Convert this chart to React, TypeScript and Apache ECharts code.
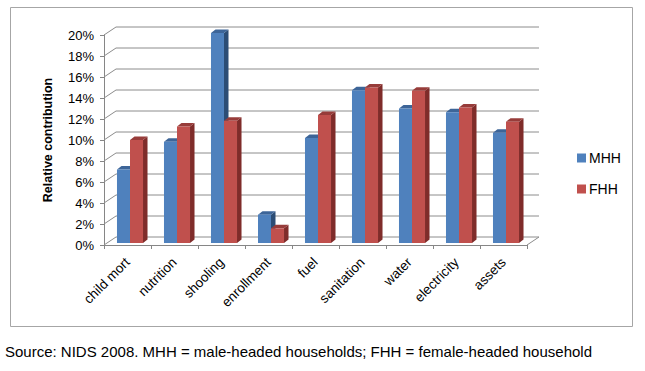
import React, { useEffect, useRef } from "react";
import * as echarts from "echarts";

const categories = ["child mort", "nutrition", "shooling", "enrollment", "fuel", "sanitation", "water", "electricity", "assets"];
const mhh = [0.07, 0.0965, 0.2, 0.027, 0.1, 0.1455, 0.128, 0.1245, 0.105];
const fhh = [0.098, 0.111, 0.1165, 0.014, 0.122, 0.148, 0.145, 0.129, 0.1155];
const yTicks = [0, 0.02, 0.04, 0.06, 0.08, 0.1, 0.12, 0.14, 0.16, 0.18, 0.2];
const sourceNote = "Source: NIDS 2008. MHH = male-headed households; FHH = female-headed household";

const FONT = "Liberation Sans";
const DX = 12;
const DY = -8;

function barRenderer(front: string, side: string, top: string, isFirst: boolean) {
  return (params: any, api: any) => {
    const i = api.value(0);
    const v = api.value(1);
    const base = api.coord([i, 0]);
    const tp = api.coord([i, v]);
    const band = api.size([1, 0])[0];
    const w = band * 0.277;
    const c = base[0] + 2.5;
    const x = isFirst ? c - w : c;
    const yb = base[1] - 2;
    const yt = tp[1] - 2;
    const sx = 4.5;
    const sy = -3.5;
    return {
      type: "group",
      children: [
        {
          type: "polygon",
          shape: { points: [[x + w, yt], [x + w + sx, yt + sy], [x + w + sx, yb + sy], [x + w, yb]] },
          style: { fill: side },
        },
        {
          type: "polygon",
          shape: { points: [[x, yt], [x + sx, yt + sy], [x + w + sx, yt + sy], [x + w, yt]] },
          style: { fill: top },
        },
        {
          type: "rect",
          shape: { x: x, y: yt, width: w, height: yb - yt },
          style: { fill: front },
        },
      ],
    };
  };
}

export default function App() {
  const ref = useRef<HTMLDivElement>(null);
  useEffect(() => {
    if (!ref.current) return;
    const chart = echarts.init(ref.current, null, { renderer: "svg" });
    const option: any = {
      animation: false,
      backgroundColor: "#ffffff",
      textStyle: { fontFamily: FONT },
      grid: { left: 104, right: 118, top: 35, bottom: 126, containLabel: false },
      legend: {
        orient: "vertical",
        left: 572,
        top: 146,
        itemWidth: 9,
        itemHeight: 9,
        itemGap: 17,
        icon: "rect",
        textStyle: { fontFamily: FONT, fontSize: 14, color: "#000", padding: [0, 0, 0, -2] },
        data: ["MHH", "FHH"],
      },
      xAxis: {
        type: "category",
        data: categories,
        axisLine: { show: true, lineStyle: { color: "#868686", width: 1 } },
        axisTick: { show: true, length: 4, lineStyle: { color: "#868686" } },
        axisLabel: { rotate: 45, margin: 15, fontSize: 13.5, color: "#000", fontFamily: FONT, interval: 0 },
        splitLine: { show: false },
      },
      yAxis: {
        type: "value",
        min: 0,
        max: 0.2,
        interval: 0.02,
        name: "Relative contribution",
        nameLocation: "middle",
        nameRotate: 90,
        nameGap: 50,
        nameTextStyle: { fontFamily: FONT, fontSize: 12.5, fontWeight: "bold", color: "#000" },
        axisLine: { show: true, lineStyle: { color: "#868686", width: 1 } },
        axisTick: { show: true, length: 4, lineStyle: { color: "#868686" } },
        axisLabel: {
          fontSize: 13,
          color: "#000",
          fontFamily: FONT,
          margin: 10,
          formatter: (v: number) => Math.round(v * 100) + "%",
        },
        splitLine: { show: false },
      },
      graphic: [
        {
          type: "rect",
          shape: { x: 10.5, y: 7.5, width: 622, height: 319 },
          style: { fill: "none", stroke: "#a6a6a6", lineWidth: 1 },
          z: 0,
        },
        {
          type: "text",
          left: 5,
          top: 344,
          style: { text: sourceNote, font: "15px " + FONT, fill: "#000" },
        },
      ],
      series: [
        {
          type: "custom",
          name: "frame",
          silent: true,
          z: 1,
          data: yTicks.map((v) => [0, v]),
          renderItem: (params: any, api: any) => {
            const cs = params.coordSys;
            const v = api.value(1);
            const y = api.coord([0, v])[1];
            const x0 = cs.x;
            const x1 = cs.x + cs.width;
            const children: any[] = [
              {
                type: "polyline",
                shape: { points: [[x0, y], [x0 + DX, y + DY], [x1 + DX, y + DY]] },
                style: { stroke: "#8c8c8c", lineWidth: 1, fill: "none" },
              },
            ];
            if (v === 0) {
              children.push({
                type: "line",
                shape: { x1: x1, y1: y, x2: x1 + DX, y2: y + DY },
                style: { stroke: "#8c8c8c", lineWidth: 1 },
              });
            }
            return { type: "group", children };
          },
        },
        {
          type: "custom",
          name: "MHH",
          z: 3,
          itemStyle: { color: "#4F81BD" },
          data: mhh.map((v, i) => [i, v]),
          renderItem: barRenderer("#4F81BD", "#2C4D75", "#3D6598", true),
        },
        {
          type: "custom",
          name: "FHH",
          z: 4,
          itemStyle: { color: "#C0504D" },
          data: fhh.map((v, i) => [i, v]),
          renderItem: barRenderer("#C0504D", "#7F2C2A", "#973C3A", false),
        },
      ],
    };
    chart.setOption(option);
    return () => chart.dispose();
  }, []);
  return (
    <div
      ref={ref}
      style={{ position: "absolute", left: 0, top: 0, width: 645, height: 371 }}
    />
  );
}
